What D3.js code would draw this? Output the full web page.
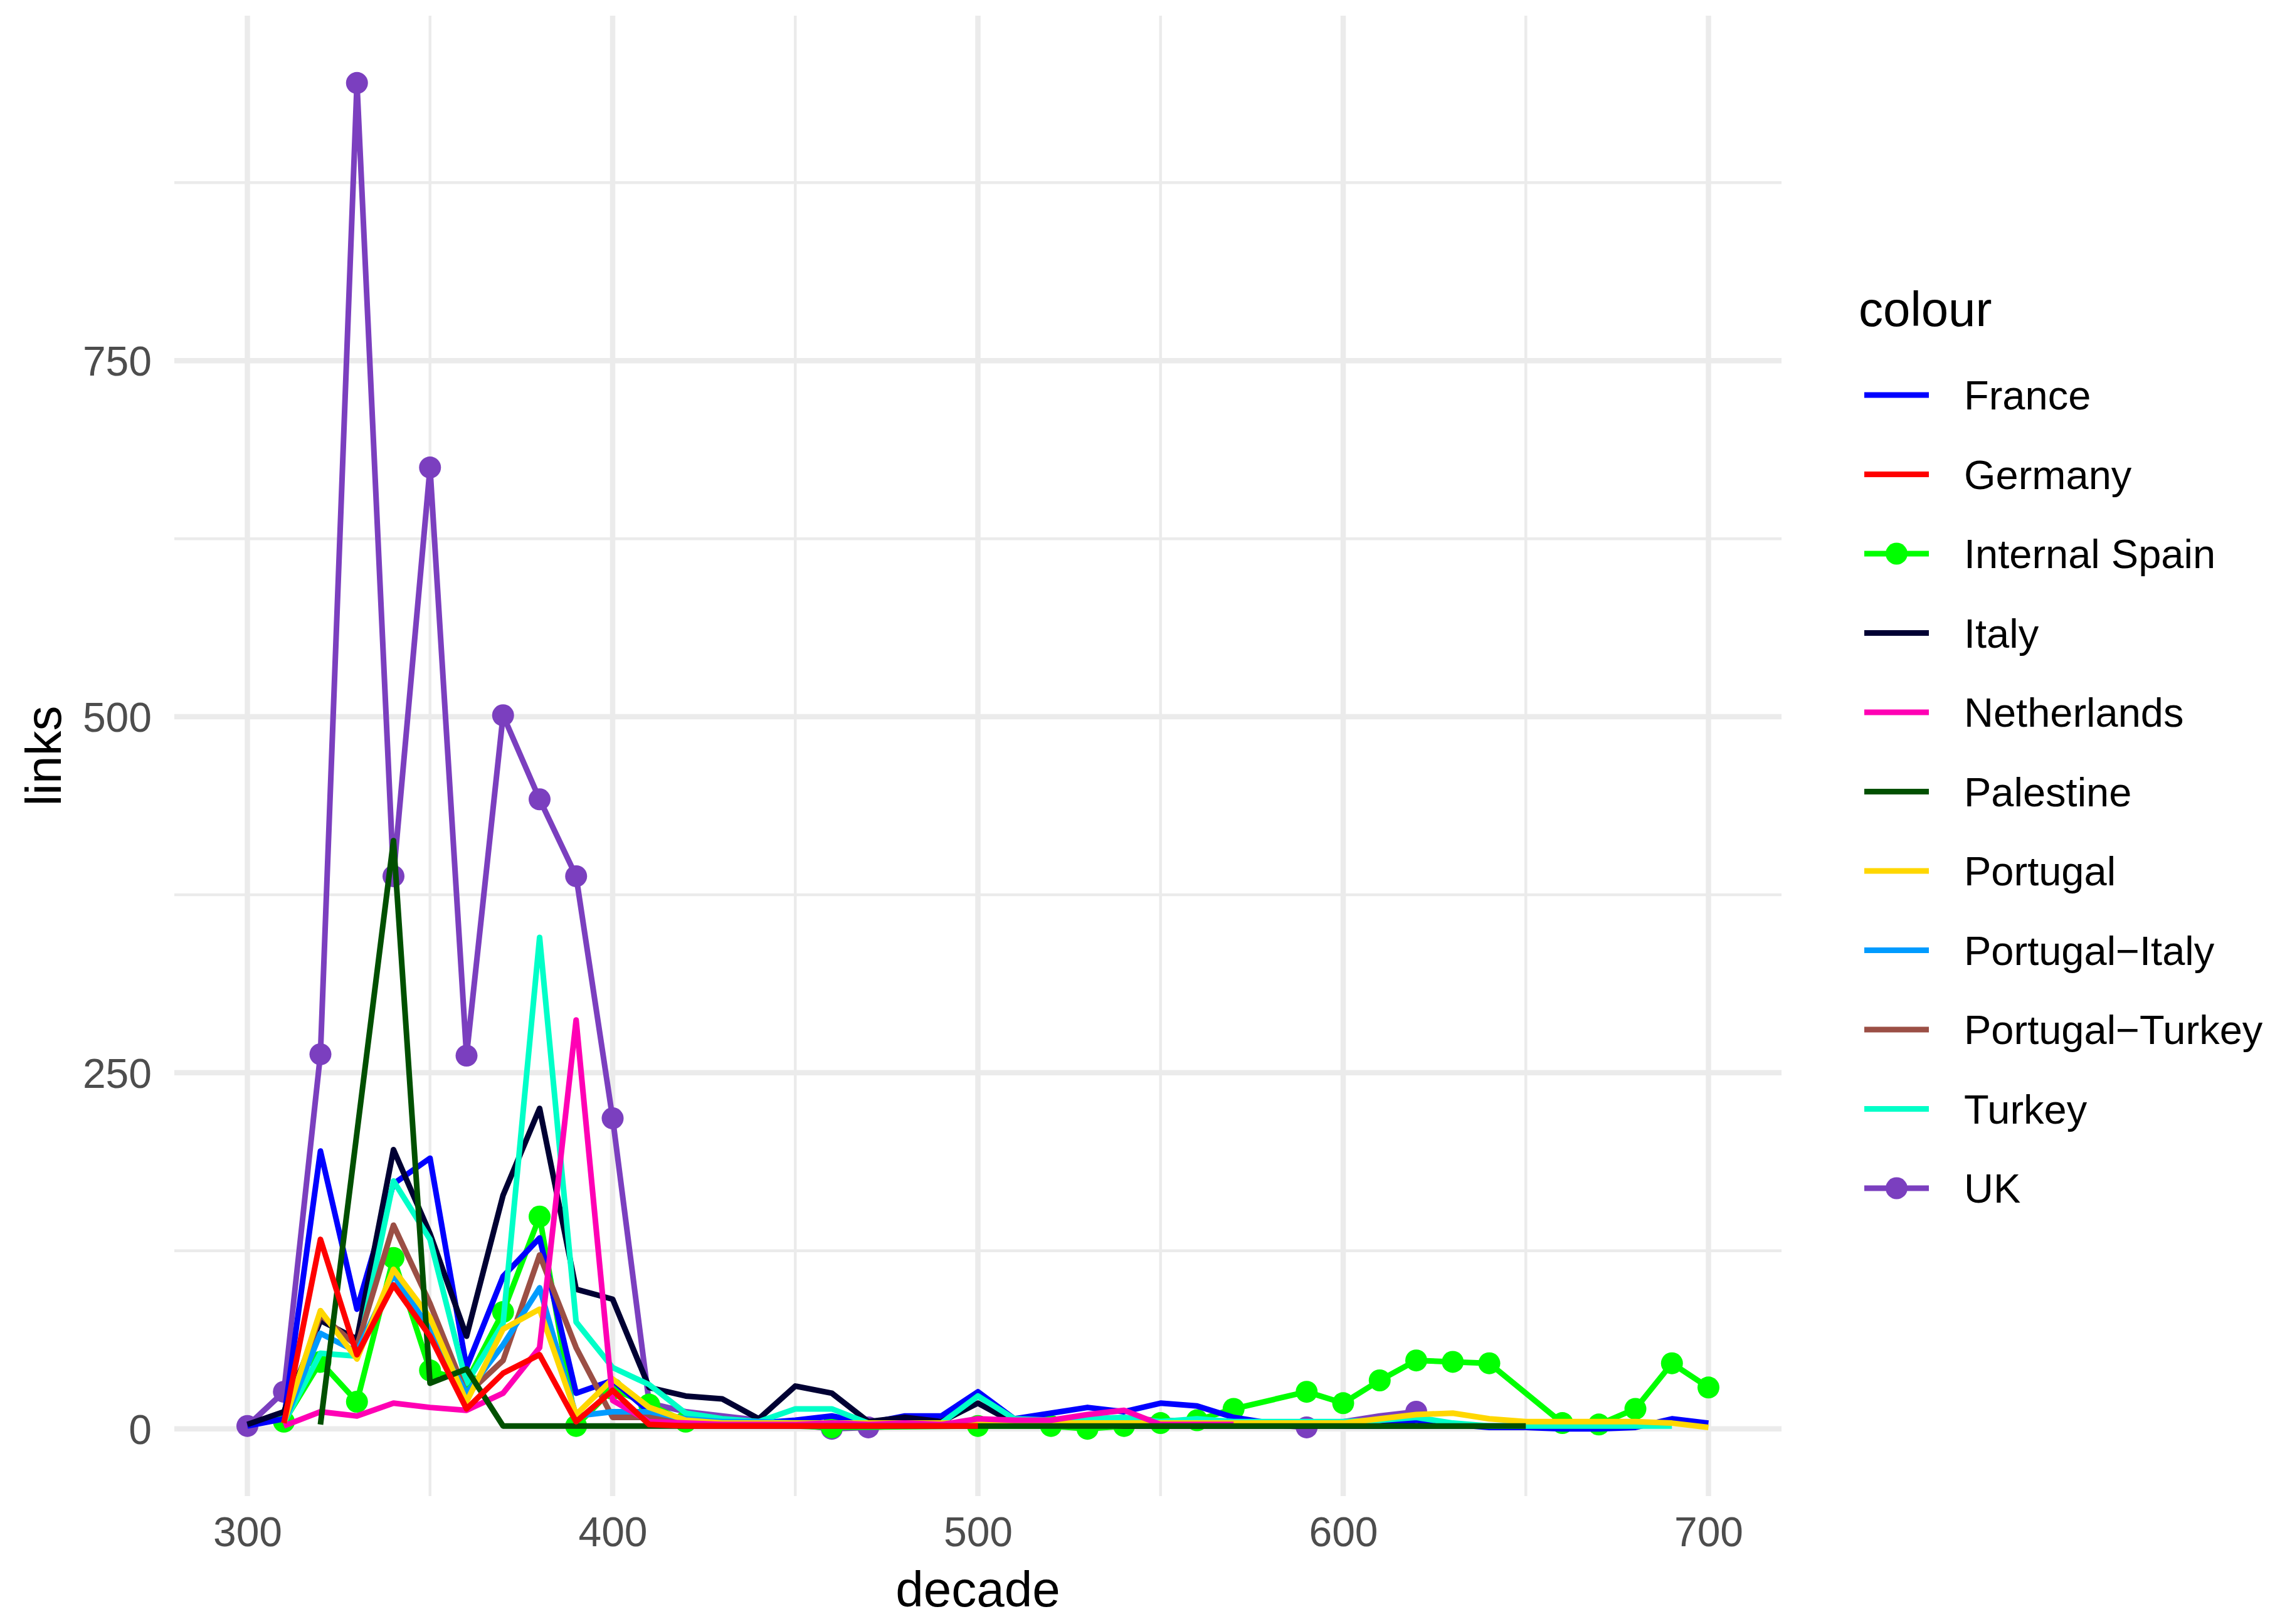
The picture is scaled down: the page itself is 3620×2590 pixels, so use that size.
<!DOCTYPE html>
<html><head><meta charset="utf-8">
<script src="https://cdn.jsdelivr.net/npm/d3@7"></script>
<style>body{margin:0;background:#fff}</style>
</head><body><svg id="chart" width="3620" height="2590"></svg>
<script>
// ---------- data ----------
const decades = [300,310,320,330,340,350,360,370,380,390,400,410,420,430,440,450,460,470,480,490,500,510,520,530,540,550,560,570,580,590,600,610,620,630,640,650,660,670,680,690,700];
const seriesNames = ["France","Germany","Internal Spain","Italy","Netherlands","Palestine","Portugal","Portugal\u2212Italy","Portugal\u2212Turkey","Turkey","UK"];
const seriesColors = ["#0000FF","#FF0000","#00FF00","#000033","#FF00B4","#005000","#FFD700","#009BFF","#9B4F45","#00FFC8","#7B3FBF"];
const drawOrder = ["UK","Internal Spain","France","Italy","Turkey","Portugal\u2212Turkey","Portugal\u2212Italy","Portugal","Netherlands","Palestine","Germany"];

const france = [2,7,195,84,172,190,43,107,134,25, 34,12,6,4,4,6,9,4,9,9, 26,7,11,15,12,18,16,8,4,3, 2,2,6,3,1,1,0,0,1,7, 4];
const germany = [null,4,133,52,101,65,14,39,52,5, 27,3,2,2,2,2,2,2,2,2, 2,null,null,null,null,null,null,null,null,null, null,null,null,null,null,null,null,null,null,null, null];
const internalSpain = [null,5,47,19,120,41,33,82,149,2, 28,17,5,null,null,null,1,null,null,null, 2,null,2,0,2,4,6,14,null,26, 18,34,48,47,46,null,4,3,14,46, 29];
const italy = [3,12,76,63,196,137,65,164,225,98, 91,29,23,21,7,30,25,5,8,5, 18,4,4,3,2,2,2,2,2,2, 2,2,2,2,2,2,null,null,null,null, null];
const netherlands = [null,2,12,9,18,15,13,25,57,287, 20,5,4,3,3,3,4,3,4,3, 7,6,6,10,13,3,3,3,null,null, null,null,null,null,null,null,null,null,null,null, null];
const palestine = [null,null,3,208,413,32,42,2,2,2, 2,2,2,2,2,2,2,2,2,2, 2,2,2,2,2,2,2,2,2,2, 2,2,2,2,2,2,null,null,null,null, null];
const portugal = [null,4,83,49,112,78,19,70,84,10, 35,15,6,4,4,4,4,4,4,4, 4,4,4,4,4,4,4,4,4,4, 4,7,10,11,7,5,5,5,5,4, 1];
const portugalItaly = [null,4,67,54,108,70,25,59,99,9, 12,12,7,5,5,4,null,null,null,null, null,null,null,null,null,null,null,null,null,null, null,null,null,null,null,null,null,null,null,null, null];
const portugalTurkey = [null,4,80,58,143,88,24,48,122,57, 8,8,5,null,null,null,null,null,null,null, null,null,null,null,null,null,null,null,null,null, null,null,null,null,null,null,null,null,null,null, null];
const turkey = [null,4,53,51,174,133,32,74,345,75, 43,31,11,7,5,14,14,4,3,4, 23,7,6,7,8,5,7,5,5,5, 5,6,8,4,2,2,2,2,2,2, null];
const uk = [2,26,263,945,388,675,262,501,442,388, 218,18,12,9,6,3,0,1,2,2, 3,4,5,6,7,6,5,4,3,1, 5,9,12,null,null,null,null,null,null,null, null];
const ukMarkerDecades = [300,310,320,330,340,350,360,370,380,390,400,460,470,590,620];

const xTicks = [300,400,500,600,700];
const xMinorTicks = [350,450,550,650];
const yTicks = [0,250,500,750];
const yMinorTicks = [125,375,625,875];
const xTitle = "decade", yTitle = "links", legendTitle = "colour";

// ---------- build ----------
const valuesByName = {
  "France": france, "Germany": germany, "Internal Spain": internalSpain, "Italy": italy,
  "Netherlands": netherlands, "Palestine": palestine, "Portugal": portugal,
  "Portugal\u2212Italy": portugalItaly, "Portugal\u2212Turkey": portugalTurkey,
  "Turkey": turkey, "UK": uk
};
const colorOf = d3.scaleOrdinal().domain(seriesNames).range(seriesColors);
function pts(name){
  return decades.map((d,i)=>({decade:d, value:valuesByName[name][i]})).filter(p=>p.value!=null);
}
const markersByName = {
  "Internal Spain": pts("Internal Spain"),
  "UK": pts("UK").filter(p=>ukMarkerDecades.includes(p.decade))
};

const FONT = "'Liberation Sans', Arial, Helvetica, sans-serif";
const svg = d3.select("#chart");
svg.append("rect").attr("width",3620).attr("height",2590).attr("fill","#fff");

const panel = {left:278, right:2841, top:25, bottom:2386};
const allVals = seriesNames.flatMap(n=>valuesByName[n].filter(v=>v!=null));
const yMax = d3.max(allVals), yMin = 0;
const xMinD = d3.min(decades), xMaxD = d3.max(decades);
const xPad = (xMaxD-xMinD)*0.05, yPad = (yMax-yMin)*0.05;
const x = d3.scaleLinear().domain([xMinD-xPad, xMaxD+xPad]).range([panel.left, panel.right]);
const y = d3.scaleLinear().domain([yMin-yPad, yMax+yPad]).range([panel.bottom, panel.top]);

const grid = svg.append("g");
grid.selectAll(".gxm").data(xMinorTicks).join("line")
  .attr("x1",d=>x(d)).attr("x2",d=>x(d)).attr("y1",panel.top).attr("y2",panel.bottom)
  .attr("stroke","#EBEBEB").attr("stroke-width",4.5);
grid.selectAll(".gym").data(yMinorTicks).join("line")
  .attr("y1",d=>y(d)).attr("y2",d=>y(d)).attr("x1",panel.left).attr("x2",panel.right)
  .attr("stroke","#EBEBEB").attr("stroke-width",4.5);
grid.selectAll(".gx").data(xTicks).join("line")
  .attr("x1",d=>x(d)).attr("x2",d=>x(d)).attr("y1",panel.top).attr("y2",panel.bottom)
  .attr("stroke","#EBEBEB").attr("stroke-width",8.5);
grid.selectAll(".gy").data(yTicks).join("line")
  .attr("y1",d=>y(d)).attr("y2",d=>y(d)).attr("x1",panel.left).attr("x2",panel.right)
  .attr("stroke","#EBEBEB").attr("stroke-width",8.5);

// axes (text only, like theme_minimal)
const xAxis = svg.append("g").attr("transform",`translate(0,${panel.bottom})`)
  .call(d3.axisBottom(x).tickValues(xTicks).tickSize(0).tickPadding(0));
xAxis.select(".domain").remove();
xAxis.selectAll("text").attr("font-family",FONT).attr("font-size",66).attr("fill","#4D4D4D")
  .attr("y",80).attr("dy","0");
const yAxis = svg.append("g").attr("transform",`translate(${panel.left},0)`)
  .call(d3.axisLeft(y).tickValues(yTicks).tickSize(0).tickPadding(0));
yAxis.select(".domain").remove();
yAxis.selectAll("text").attr("font-family",FONT).attr("font-size",66).attr("fill","#4D4D4D")
  .attr("x",-36).attr("dy","0.36em");

svg.append("text").text(xTitle).attr("x",(panel.left+panel.right)/2).attr("y",2562)
  .attr("text-anchor","middle").attr("font-family",FONT).attr("font-size",80).attr("fill","#000");
svg.append("text").text(yTitle).attr("transform",`translate(97,${(panel.top+panel.bottom)/2}) rotate(-90)`)
  .attr("text-anchor","middle").attr("font-family",FONT).attr("font-size",80).attr("fill","#000");

// data
const line = d3.line().x(d=>x(d.decade)).y(d=>y(d.value));
const plot = svg.append("g");
drawOrder.forEach(name=>{
  plot.append("path").datum(pts(name)).attr("d",line).attr("fill","none")
    .attr("stroke",colorOf(name)).attr("stroke-width",9).attr("stroke-linejoin","round").attr("stroke-linecap","butt");
  if (markersByName[name]) {
    plot.selectAll(null).data(markersByName[name]).join("circle")
      .attr("cx",d=>x(d.decade)).attr("cy",d=>y(d.value)).attr("r",17.5).attr("fill",colorOf(name));
  }
});

// legend
const lg = svg.append("g");
lg.append("text").text(legendTitle).attr("x",2964).attr("y",520)
  .attr("font-family",FONT).attr("font-size",78).attr("fill","#000");
seriesNames.forEach((name,i)=>{
  const cy = 630 + i*126.5;
  lg.append("line").attr("x1",2973).attr("x2",3076).attr("y1",cy).attr("y2",cy)
    .attr("stroke",colorOf(name)).attr("stroke-width",9);
  if (markersByName[name]) lg.append("circle").attr("cx",3024.5).attr("cy",cy).attr("r",17.5).attr("fill",colorOf(name));
  lg.append("text").text(name).attr("x",3132).attr("y",cy).attr("dy","0.36em")
    .attr("font-family",FONT).attr("font-size",65).attr("fill","#000");
});
</script></body></html>
